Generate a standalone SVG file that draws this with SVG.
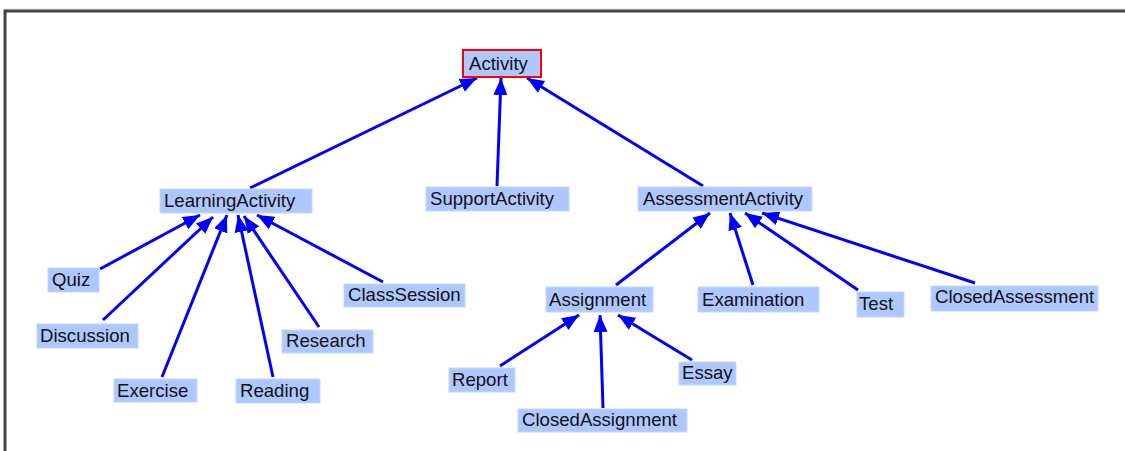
<svg xmlns="http://www.w3.org/2000/svg" width="1125" height="451" viewBox="0 0 1125 451">
<style>
.n rect{fill:#aec8ff;stroke:#c4d6ff;stroke-width:1}
.n text{font-family:"Liberation Sans",Arial,sans-serif;font-size:18.6px;fill:#111}
#connectors line{stroke:#0000ff;stroke-width:3;marker-end:url(#ah)}
</style>
<defs>
<marker id="ah" markerUnits="userSpaceOnUse" markerWidth="18" markerHeight="16" refX="17" refY="8" orient="auto">
<path d="M0,1 L17,8 L0,15 z" fill="#0000ff"/>
</marker>
</defs>
<rect x="0" y="0" width="1125" height="451" fill="#fff"/>
<line x1="4" y1="9" x2="1125" y2="9" stroke="#ddd" stroke-width="1"/>
<path d="M5,451 V11 H1125" fill="none" stroke="#444" stroke-width="3"/>
<g id="connectors">
<line x1="250" y1="188" x2="477" y2="78"/>
<line x1="497" y1="186" x2="501" y2="78"/>
<line x1="703" y1="186" x2="527" y2="78"/>
<line x1="100" y1="269" x2="200" y2="215"/>
<line x1="103" y1="320" x2="213" y2="217"/>
<line x1="162" y1="377" x2="227" y2="215"/>
<line x1="273" y1="377" x2="238" y2="215"/>
<line x1="319" y1="327" x2="244" y2="216"/>
<line x1="383" y1="282" x2="257" y2="215"/>
<line x1="616" y1="285" x2="710" y2="213"/>
<line x1="753" y1="285" x2="730" y2="213"/>
<line x1="858" y1="290" x2="745" y2="213"/>
<line x1="975" y1="283" x2="762" y2="213"/>
<line x1="500" y1="366" x2="579" y2="315"/>
<line x1="603" y1="408" x2="600" y2="315"/>
<line x1="692" y1="360" x2="618" y2="315"/>
</g>
<g id="Activity" class="n"><rect x="463" y="50" width="78" height="27" style="stroke:#ff0000;stroke-width:2"/><text x="469" y="70">Activity</text></g>
<g id="LearningActivity" class="n"><rect x="160" y="189" width="152" height="24"/><text x="164" y="207">LearningActivity</text></g>
<g id="SupportActivity" class="n"><rect x="426" y="187" width="143" height="24"/><text x="430" y="205">SupportActivity</text></g>
<g id="AssessmentActivity" class="n"><rect x="638" y="187" width="174" height="24"/><text x="643" y="205">AssessmentActivity</text></g>
<g id="Quiz" class="n"><rect x="48" y="268" width="51" height="24"/><text x="52" y="286">Quiz</text></g>
<g id="Discussion" class="n"><rect x="37" y="324" width="101" height="24"/><text x="40" y="342">Discussion</text></g>
<g id="Exercise" class="n"><rect x="114" y="379" width="83" height="23"/><text x="117" y="397">Exercise</text></g>
<g id="Reading" class="n"><rect x="236" y="379" width="84" height="24"/><text x="240" y="397">Reading</text></g>
<g id="Research" class="n"><rect x="282" y="330" width="91" height="23"/><text x="286" y="347">Research</text></g>
<g id="ClassSession" class="n"><rect x="344" y="284" width="121" height="23"/><text x="348" y="301">ClassSession</text></g>
<g id="Assignment" class="n"><rect x="546" y="287" width="107" height="25"/><text x="549" y="306">Assignment</text></g>
<g id="Examination" class="n"><rect x="698" y="287" width="121" height="25"/><text x="702" y="306">Examination</text></g>
<g id="Test" class="n"><rect x="857" y="292" width="47" height="25"/><text x="859" y="310">Test</text></g>
<g id="ClosedAssessment" class="n"><rect x="931" y="286" width="167" height="25"/><text x="935" y="303">ClosedAssessment</text></g>
<g id="Report" class="n"><rect x="449" y="368" width="66" height="24"/><text x="452" y="386">Report</text></g>
<g id="Essay" class="n"><rect x="679" y="362" width="57" height="23"/><text x="682" y="379">Essay</text></g>
<g id="ClosedAssignment" class="n"><rect x="518" y="409" width="169" height="23"/><text x="522" y="426">ClosedAssignment</text></g>
</svg>
